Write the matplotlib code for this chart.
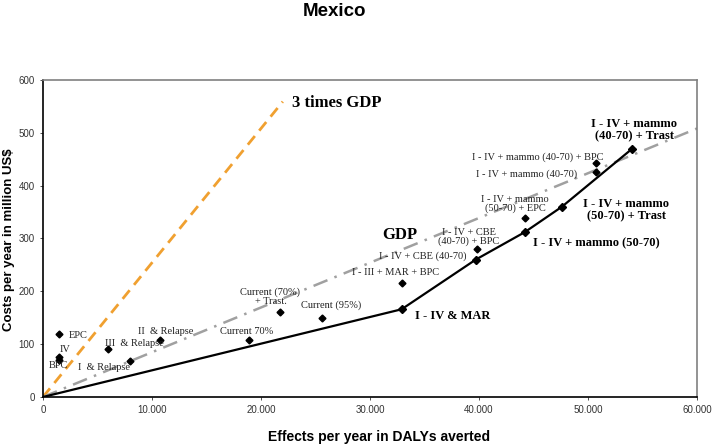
import matplotlib
matplotlib.use('Agg')
import matplotlib.pyplot as plt
from matplotlib.ticker import FuncFormatter

# interventions: (DALYs averted per year, cost per year in million US$)
labels = ['EPC', 'IV', 'BPC', 'III  & Relapse', 'I  & Relapse', 'II  & Relapse',
          'Current 70%', 'Current (70%)\n+ Trast.', 'Current (95%)',
          'I - III + MAR + BPC', 'I - IV + CBE (40-70)', 'I - IV + CBE\n(40-70) + BPC',
          'I - IV + mammo\n(50-70) + EPC', 'I - IV + mammo (40-70)',
          'I - IV + mammo (40-70) + BPC']
effects = [1500, 1500, 1500, 6000, 8000, 10700, 18900, 21700, 25600,
           32900, 39700, 39800, 44200, 50700, 50700]
costs = [119, 75, 70, 90, 69, 107, 108, 160, 149,
         215, 260, 280, 338, 425, 443]

# expansion path (cost-effective frontier)
front_labels = ['', 'I - IV & MAR', '', 'I - IV + mammo (50-70)',
                'I - IV + mammo\n(50-70) + Trast', 'I - IV + mammo\n(40-70) + Trast']
front_x = [0, 32900, 39700, 44200, 47600, 54000]
front_y = [0, 166, 260, 312, 360, 469]

gdp_per_daly = 8470 / 1e6   # million US$ per DALY
gdp_x = [0, 60000]
gdp3_x = [0, 22000]

# label placement (data coords, centred)
lab_pos = [(3250, 117), (2000, 90), (1450, 59), (8370, 102), (5610, 56), (11240, 124),
           (18650, 124), (20870, 189), (26420, 174), (32380, 236), (34800, 267),
           (39040, 303), (43300, 365), (44400, 422), (45400, 454)]
front_pos = [None, (37610, 154), None, (50730, 290), (53530, 354), (54260, 505)]

fig = plt.figure(figsize=(7.14, 4.46), dpi=100)
ax = fig.add_axes([0.0602, 0.1099, 0.916, 0.7108])

ax.plot(gdp3_x, [x * 3 * gdp_per_daly for x in gdp3_x], color='#F0A030', lw=2,
        dashes=(4, 2.5), zorder=2)
ax.plot(gdp_x, [x * gdp_per_daly for x in gdp_x], color='#A0A0A0', lw=1.8,
        dashes=(6, 3, 1, 3), zorder=2)
ax.plot(front_x, front_y, color='black', lw=1.6, zorder=3)
ax.plot(front_x[1:], front_y[1:], 'D', color='black', ms=4.5, zorder=4)
ax.plot(effects, costs, 'D', color='black', ms=3.5, zorder=4)

serif = 'Liberation Serif'
for t, (x, y) in zip(labels, lab_pos):
    ax.text(x, y, t, fontsize=7.5, family=serif, ha='center', va='center',
            linespacing=1.0, color='#222222', zorder=5)
for t, p in zip(front_labels, front_pos):
    if p is None:
        continue
    ax.text(p[0], p[1], t, fontsize=9, family=serif, weight='bold',
            ha='center', va='center', linespacing=1.05, zorder=5)
ax.text(22840, 556, '3 times GDP', fontsize=12, family=serif, weight='bold',
        ha='left', va='center')
ax.text(32750, 307, 'GDP', fontsize=12, family=serif, weight='bold',
        ha='center', va='center')

ax.set_xlim(0, 60000)
ax.set_ylim(0, 600)
ax.set_xticks(range(0, 60001, 10000))
ax.set_yticks(range(0, 601, 100))
ax.xaxis.set_major_formatter(FuncFormatter(lambda v, p: f'{int(v):,}'.replace(',', '.')))
ax.tick_params(labelsize=7, colors='#333333', length=2.5, width=0.6)
for lab in ax.get_xticklabels() + ax.get_yticklabels():
    lab.set_family('Liberation Sans')
for s in ['left', 'bottom']:
    ax.spines[s].set_color('black')
    ax.spines[s].set_linewidth(1.2)
for s in ['top', 'right']:
    ax.spines[s].set_color('#808080')
    ax.spines[s].set_linewidth(1.2)

fig.text(335 / 714, 1 - 12 / 446, 'Mexico', fontsize=13.5, weight='bold',
         family='Liberation Sans', ha='center', va='center')
fig.text(379 / 714, 1 - 437 / 446, 'Effects per year in DALYs averted', fontsize=10,
         weight='bold', family='Liberation Sans', ha='center', va='center')
fig.text(9.5 / 714, 1 - 240 / 446, 'Costs per year in million US$', fontsize=9.5,
         weight='bold', family='Liberation Sans', ha='center', va='center', rotation=90)

fig.savefig('out.png', dpi=100)
